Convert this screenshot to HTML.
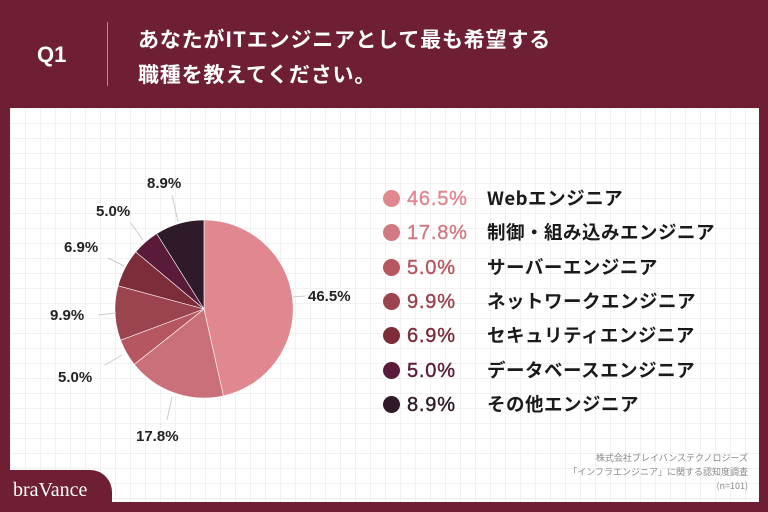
<!DOCTYPE html>
<html><head><meta charset="utf-8"><style>
body{margin:0;width:768px;height:512px;background:#6e1f33;position:relative;overflow:hidden;font-family:"Liberation Sans","Noto Sans CJK JP",sans-serif;}
.panel{position:absolute;left:10px;top:108px;width:749px;height:394px;background-color:#fff;
background-image:linear-gradient(#f1f1f1 1px,transparent 1px),linear-gradient(90deg,#f1f1f1 1px,transparent 1px);background-size:15px 15px;}
.t{position:absolute;color:#fff;font-weight:bold;white-space:nowrap;}
.lg{position:absolute;left:383px;white-space:nowrap;height:34px;line-height:34px;}
.lg i{display:inline-block;width:17px;height:17px;border-radius:50%;vertical-align:middle;margin-right:7px;position:relative;top:-2px;}
.lg b{display:inline-block;width:80px;font-size:20px;font-weight:normal;letter-spacing:0.8px;-webkit-text-stroke:0.4px currentColor;}
.lg span{font-size:18.5px;letter-spacing:0.5px;font-weight:bold;color:#1a1a1a;font-family:"Noto Sans CJK JP","Liberation Sans",sans-serif;}
</style></head><body>
<div class="t" style="left:37px;top:42px;font-size:22px;">Q1</div>
<div style="position:absolute;left:107px;top:22px;width:1px;height:64px;background:#b98a95;"></div>
<div class="t" style="left:138px;top:22px;font-size:21px;letter-spacing:0.8px;line-height:35px;font-family:'Noto Sans CJK JP',sans-serif;">あなたがITエンジニアとして最も希望する<br>職種を教えてください。</div>
<div class="panel"></div>
<svg style="position:absolute;left:0;top:0" width="768" height="512">
<g stroke="#fff" stroke-width="0.6">
<path d="M204,309 L204,220 A89,89 0 0 1 223.4,395.9 Z" fill="#e08790"/>
<path d="M204,309 L223.4,395.9 A89,89 0 0 1 134.3,364.4 Z" fill="#c9707a"/>
<path d="M204,309 L134.3,364.4 A89,89 0 0 1 120.6,340.2 Z" fill="#b55661"/>
<path d="M204,309 L120.6,340.2 A89,89 0 0 1 118.1,285.8 Z" fill="#9c4350"/>
<path d="M204,309 L118.1,285.8 A89,89 0 0 1 135.7,251.9 Z" fill="#7d2d3a"/>
<path d="M204,309 L135.7,251.9 A89,89 0 0 1 156.7,233.6 Z" fill="#5a1a3a"/>
<path d="M204,309 L156.7,233.6 A89,89 0 0 1 204,220 Z" fill="#2e1a28"/>
</g>
<g stroke="#ccc" stroke-width="1" fill="none">
<line x1="293" y1="297" x2="305" y2="296"/>
<line x1="172" y1="397" x2="167" y2="420"/>
<line x1="122" y1="355" x2="105" y2="365"/>
<line x1="116" y1="313" x2="98" y2="315"/>
<line x1="124" y1="266" x2="108" y2="258"/>
<line x1="143" y1="240" x2="130" y2="222"/>
<line x1="178" y1="222" x2="172" y2="195"/>
</g>
<g font-family="Liberation Sans,sans-serif" font-weight="bold" font-size="15" fill="#222">
<text x="308" y="301">46.5%</text>
<text x="136" y="441">17.8%</text>
<text x="58" y="382">5.0%</text>
<text x="50" y="320">9.9%</text>
<text x="64" y="252">6.9%</text>
<text x="96" y="216">5.0%</text>
<text x="147" y="188">8.9%</text>
</g>
</svg>
<div class="lg" style="top:181px;"><i style="background:#e08790"></i><b style="color:#e08790">46.5%</b><span>Webエンジニア</span></div>
<div class="lg" style="top:215px;"><i style="background:#d27a84"></i><b style="color:#d27a84">17.8%</b><span>制御・組み込みエンジニア</span></div>
<div class="lg" style="top:250px;"><i style="background:#b55661"></i><b style="color:#b55661">5.0%</b><span>サーバーエンジニア</span></div>
<div class="lg" style="top:284px;"><i style="background:#9c4350"></i><b style="color:#9c4350">9.9%</b><span>ネットワークエンジニア</span></div>
<div class="lg" style="top:318px;"><i style="background:#7d2d3a"></i><b style="color:#7d2d3a">6.9%</b><span>セキュリティエンジニア</span></div>
<div class="lg" style="top:353px;"><i style="background:#5a1a3a"></i><b style="color:#5a1a3a">5.0%</b><span>データベースエンジニア</span></div>
<div class="lg" style="top:387px;"><i style="background:#2e1a28"></i><b style="color:#2e1a28">8.9%</b><span>その他エンジニア</span></div>
<div style="position:absolute;right:20px;top:451px;text-align:right;font-size:9px;line-height:14px;color:#888;font-family:'Noto Sans CJK JP',sans-serif;">株式会社ブレイバンステクノロジーズ<br>「インフラエンジニア」に関する認知度調査<br>(n=101)</div>
<div style="position:absolute;left:0;top:470px;width:112px;height:42px;background:#6e1f33;border-top-right-radius:22px;"></div>
<div style="position:absolute;left:13px;top:479px;color:#fff;font-family:'Liberation Serif',serif;font-size:20px;">braVance</div>
</body></html>
